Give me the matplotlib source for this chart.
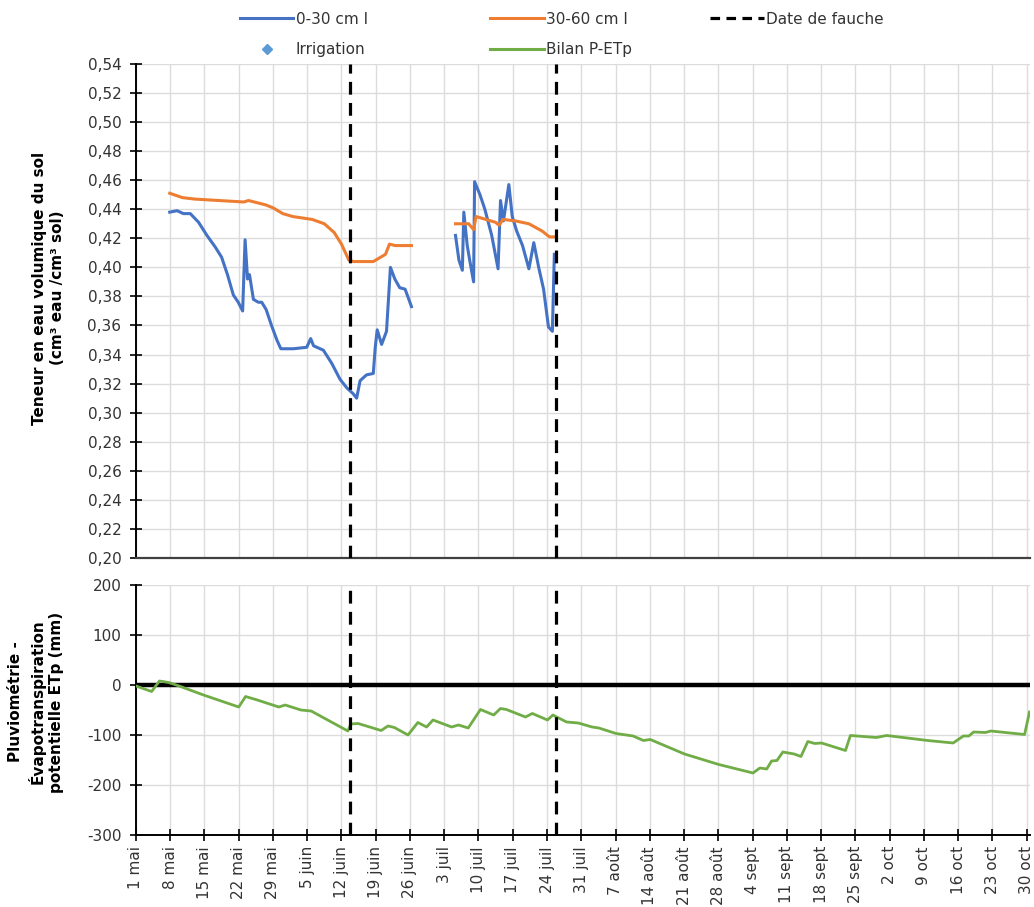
import numpy as np
import matplotlib.pyplot as plt
from matplotlib.lines import Line2D
from matplotlib.ticker import FuncFormatter

plt.rcParams['axes.unicode_minus'] = False
plt.rcParams['font.family'] = ['DejaVu Sans']

# ---- data (x = days since 1 May) ----
tick_labels = ["1 mai", "8 mai", "15 mai", "22 mai", "29 mai", "5 juin", "12 juin",
               "19 juin", "26 juin", "3 juil", "10 juil", "17 juil", "24 juil",
               "31 juil", "7 août", "14 août", "21 août", "28 août", "4 sept",
               "11 sept", "18 sept", "25 sept", "2 oct", "9 oct", "16 oct",
               "23 oct", "30 oct"]

fauche_days = [43.7, 85.8]
irrigation_days = []
irrigation_vals = []

# 0-30 cm, first record
d030_a = [6.9, 8.4, 9.7, 11.1, 12.8, 14.5, 16.2, 17.5, 18.7, 19.9, 20.9, 21.8,
          22.3, 22.8, 23.2, 24.0, 25.0, 25.7, 26.6, 27.7, 28.8, 29.6, 32.2,
          34.9, 35.7, 36.3, 38.3, 40.0, 41.7, 43.1, 44.4, 45.1, 45.8, 47.1,
          48.5, 48.9, 49.3, 50.2, 51.2, 51.6, 52.0, 52.9, 53.9, 55.0, 56.3]
v030_a = [0.438, 0.439, 0.437, 0.437, 0.431, 0.422, 0.414, 0.407, 0.395, 0.381,
          0.376, 0.370, 0.419, 0.392, 0.395, 0.378, 0.376, 0.376, 0.371, 0.360,
          0.350, 0.344, 0.344, 0.345, 0.351, 0.346, 0.343, 0.334, 0.323, 0.317,
          0.313, 0.310, 0.322, 0.326, 0.327, 0.345, 0.357, 0.347, 0.356, 0.378,
          0.400, 0.392, 0.386, 0.385, 0.373]
# 0-30 cm, second record
d030_b = [65.3, 66.0, 66.7, 67.0, 67.7, 68.2, 69.0, 69.2, 70.3, 71.3, 72.7,
          74.0, 74.5, 75.1, 76.2, 76.9, 77.8, 79.0, 80.3, 81.3, 82.3, 83.3,
          84.3, 85.1, 85.5]
v030_b = [0.422, 0.405, 0.398, 0.438, 0.415, 0.405, 0.390, 0.459, 0.450, 0.440,
          0.422, 0.399, 0.446, 0.432, 0.457, 0.435, 0.425, 0.415, 0.399, 0.417,
          0.400, 0.385, 0.359, 0.356, 0.409]

# 30-60 cm
d3060_a = [6.9, 9.5, 12.0, 22.0, 23.0, 26.5, 28.0, 30.0, 32.0, 36.0, 38.5,
           40.5, 42.0, 43.5, 44.5, 48.5, 51.0, 51.8, 53.0, 56.3]
v3060_a = [0.451, 0.448, 0.447, 0.445, 0.446, 0.443, 0.441, 0.437, 0.435, 0.433,
           0.430, 0.424, 0.416, 0.405, 0.404, 0.404, 0.409, 0.416, 0.415, 0.415]
d3060_b = [65.3, 68.0, 69.0, 69.5, 73.5, 74.2, 75.0, 77.5, 80.3, 83.0, 84.5, 85.5]
v3060_b = [0.430, 0.430, 0.426, 0.435, 0.431, 0.429, 0.433, 0.432, 0.430, 0.425,
           0.421, 0.421]

# Bilan P-ETp (mm)
d_bilan = [0, 3.2, 4.8, 6.7, 9.1, 13.8, 21.0, 22.4, 24.8, 29.2, 30.5, 33.7, 35.8,
           43.3, 43.9, 45.4, 50.1, 51.5, 52.8, 55.6, 57.6, 59.4, 60.7, 64.5, 65.9,
           67.9, 70.4, 73.1, 74.5, 75.7, 79.6, 81.0, 84.1, 85.2, 88.0, 90.4, 93.2,
           94.6, 98.1, 101.6, 103.7, 105.1, 112.1, 119.1, 126.1, 127.5, 128.9,
           129.9, 131.0, 132.2, 134.5, 135.9, 137.3, 138.7, 140.1, 145.0, 146.0,
           151.3, 153.4, 161.8, 167.0, 169.1, 170.2, 171.2, 173.6, 174.7, 181.6,
           182.6]
v_bilan = [-2, -13, 8, 5, -3, -20, -44, -23, -30, -44, -40, -50, -52,
           -92, -78, -77, -91, -82, -85, -100, -75, -84, -70, -84, -80,
           -86, -49, -60, -47, -49, -64, -57, -70, -60, -74, -76, -84,
           -86, -97, -102, -111, -109, -138, -159, -176, -166, -168,
           -152, -151, -134, -138, -143, -113, -117, -116, -131, -101,
           -105, -101, -111, -116, -102, -102, -94, -95, -92, -99,
           -54]

BLUE = '#4472C4'
ORANGE = '#ED7D31'
GREEN = '#70AD47'
GRID = '#DCDCDC'
TXT = '#333333'

tick_pos = np.arange(len(tick_labels)) * 7

fig = plt.figure(figsize=(10.34, 9.07), dpi=100)
ax1 = fig.add_axes([0.1315, 0.3848, 0.8646, 0.5447])
ax2 = fig.add_axes([0.1315, 0.0794, 0.8646, 0.2756])

# ---- top: soil water content ----
x030 = d030_a + [np.nan] + d030_b
y030 = v030_a + [np.nan] + v030_b
x3060 = d3060_a + [np.nan] + d3060_b
y3060 = v3060_a + [np.nan] + v3060_b
ax1.plot(x030, y030, color=BLUE, lw=2.2, zorder=3)
ax1.plot(x3060, y3060, color=ORANGE, lw=2.2, zorder=3)
ax1.plot(irrigation_days, irrigation_vals, ls='none', marker='D', color='#5B9BD5')
for d in fauche_days:
    ax1.axvline(d, color='black', lw=2.3, dashes=(4, 2.6), zorder=4)

ax1.set_xlim(0, 182.7)
ax1.set_ylim(0.20, 0.54)
ax1.set_yticks(np.arange(0.20, 0.541, 0.02))
ax1.yaxis.set_major_formatter(FuncFormatter(lambda v, p: f"{v:.2f}".replace('.', ',')))
ax1.set_xticks(tick_pos)
ax1.tick_params(axis='x', length=0, labelbottom=False)
ax1.tick_params(axis='y', direction='inout', length=9, width=1.2, labelsize=11,
                labelcolor=TXT, pad=6)
ax1.grid(True, color=GRID, lw=1)
ax1.set_axisbelow(True)
for s in ['top', 'right']:
    ax1.spines[s].set_visible(False)
ax1.spines['left'].set_linewidth(1.4)
ax1.spines['bottom'].set_color('#404040')
ax1.spines['bottom'].set_linewidth(1.6)

# ---- bottom: P - ETp ----
ax2.plot(d_bilan, v_bilan, color=GREEN, lw=2.0, zorder=3)
ax2.axhline(0, color='black', lw=3.2, zorder=2)
for d in fauche_days:
    ax2.axvline(d, color='black', lw=2.3, dashes=(4, 2.6), zorder=4)

ax2.set_xlim(0, 182.7)
ax2.set_ylim(-300, 200)
ax2.set_yticks(np.arange(-300, 201, 100))
ax2.set_xticks(tick_pos)
ax2.set_xticklabels(tick_labels, rotation=90)
ax2.tick_params(direction='inout', length=9, width=1.2, labelsize=11,
                labelcolor=TXT)
ax2.tick_params(axis='y', pad=6)
ax2.grid(True, color=GRID, lw=1)
ax2.set_axisbelow(True)
for s in ['top', 'right']:
    ax2.spines[s].set_visible(False)
ax2.spines['left'].set_linewidth(1.4)
ax2.spines['bottom'].set_linewidth(1.4)

# ---- axis titles ----
fig.text(0.047, 0.6825, "Teneur en eau volumique du sol\n(cm³ eau /cm³ sol)",
         rotation=90, ha='center', va='center', fontsize=11, fontweight='bold',
         multialignment='center', linespacing=1.25)
fig.text(0.035, 0.226, "Pluviométrie -\nÉvapotranspiration\npotentielle ETp (mm)",
         rotation=90, ha='center', va='center', fontsize=11, fontweight='bold',
         multialignment='center', linespacing=1.3)

# ---- legend (three columns placed one by one) ----
leg_kw = dict(loc='upper left', frameon=False, fontsize=11, handlelength=3.5,
              handletextpad=0.15, labelspacing=1.0, labelcolor=TXT,
              borderpad=0, borderaxespad=0)
fig.legend([Line2D([], [], color=BLUE, lw=2.2),
            Line2D([], [], ls='none', marker='D', color='#5B9BD5', markersize=5)],
           ["0-30 cm I", "Irrigation"], bbox_to_anchor=(0.232, 0.987), **leg_kw)
fig.legend([Line2D([], [], color=ORANGE, lw=2.2),
            Line2D([], [], color=GREEN, lw=2.2)],
           ["30-60 cm I", "Bilan P-ETp"], bbox_to_anchor=(0.474, 0.987), **leg_kw)
fig.legend([Line2D([], [], color='black', lw=2.3, dashes=(3, 2))],
           ["Date de fauche"], bbox_to_anchor=(0.687, 0.987), **leg_kw)

fig.savefig('out.png', dpi=100)
